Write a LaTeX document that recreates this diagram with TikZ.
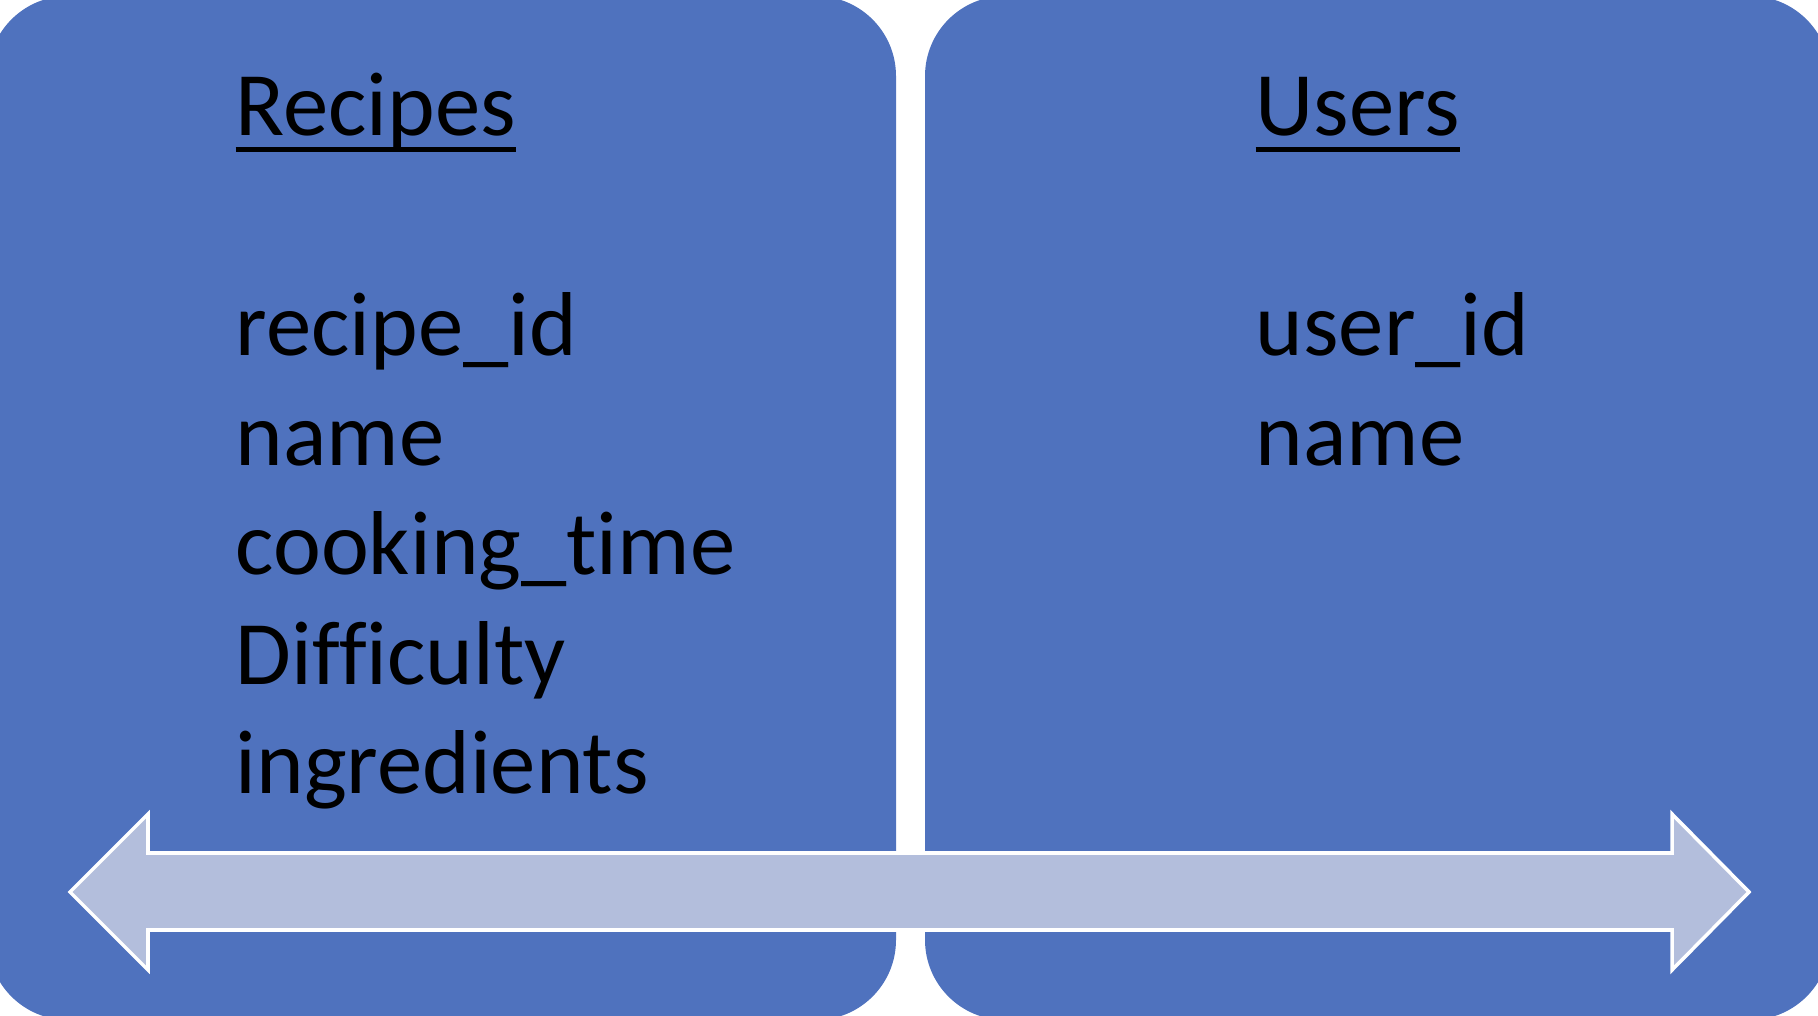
\documentclass[tikz,border=0pt]{standalone}
\usepackage{fontspec}
\setmainfont{Carlito}[Ligatures=CommonOff]
\usepackage{tikz}

\definecolor{tablefill}{RGB}{79,114,190}
\definecolor{linkfill}{RGB}{179,190,220}

\newcommand{\ulword}[1]{\setbox0\hbox{#1}\rlap{\rule[-0.18em]{\wd0}{0.058em}}\box0}

\begin{document}
\begin{tikzpicture}[x=0.01cm, y=-0.01cm, font=\fontsize{25.8}{31}\selectfont]
\tikzstyle{tablebox} = [fill=tablefill, rounded corners=0.8cm]
\tikzstyle{title} = [anchor=base west, inner sep=0pt, text=black]
\tikzstyle{field} = [anchor=base west, inner sep=0pt, text=black]
\tikzstyle{linkarrow} = [fill=linkfill, draw=white, line width=1pt, line join=miter]

\useasboundingbox (0,0) rectangle (1818,1016);
\clip (0,0) rectangle (1818,1016);

% the two tables
\fill[tablebox] (-12,-4) rectangle (896,1020);
\fill[tablebox] (925,-4) rectangle (1830,1020);

\node[title] (recipes) at (235,136) {\ulword{Recipes}};
\node[title] (users) at (1255,136) {\ulword{Users}};

\foreach \f [count=\i] in {recipe\_id, name, cooking\_time, Difficulty, ingredients}
  \node[field] (recipe\i) at (235,246.5+109.5*\i) {\f};

\foreach \f [count=\i] in {user\_id, name}
  \node[field] (user\i) at (1255,246.5+109.5*\i) {\f};

% link between them
\draw[linkarrow] (70,892) -- (148,814) -- (148,853) -- (1672,853) -- (1672,814)
  -- (1749,892) -- (1672,970) -- (1672,930) -- (148,930) -- (148,970) -- cycle;

\end{tikzpicture}
\end{document}
